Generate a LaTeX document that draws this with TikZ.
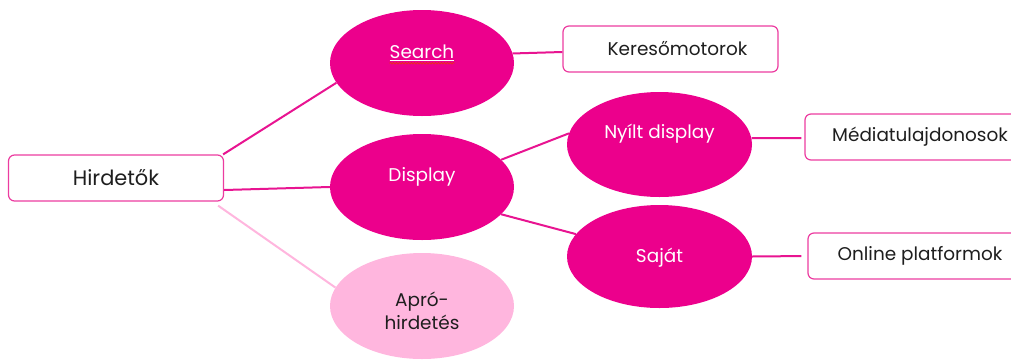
\documentclass[tikz,border=0pt]{standalone}
\usepackage{fontspec}
\setmainfont{Poppins}
\usetikzlibrary{shapes.geometric,decorations.pathmorphing}
\definecolor{magentaA}{RGB}{236,0,140}
\definecolor{boxline}{RGB}{236,60,160}
\definecolor{lightpink}{RGB}{255,182,222}
\definecolor{linkline}{RGB}{232,20,145}
\definecolor{textgray}{RGB}{30,30,30}
\definecolor{spellred}{RGB}{235,40,40}
\tikzset{
  bubble/.style={ellipse, fill=magentaA, draw=none, minimum width=184bp, minimum height=106bp, inner sep=0pt},
  softbubble/.style={bubble, fill=lightpink},
  bubtext/.style={text=white, font=\fontsize{18.5}{22}\selectfont, inner sep=0pt},
  termbox/.style={draw=boxline, line width=1.2bp, rounded corners=6bp, fill=white,
    minimum width=215bp, minimum height=46bp, inner sep=0pt, text=textgray,
    font=\fontsize{18.5}{22}\selectfont},
  link/.style={draw=linkline, line width=2bp},
  softlink/.style={draw=lightpink, line width=2bp}
}
\begin{document}
\begin{tikzpicture}[x=1bp, y=-1bp]
\useasboundingbox (0,0) rectangle (1011,360);

% root box
\node[termbox, font=\fontsize{21}{24}\selectfont] (hird) at (116,178) {Hirdetők};

% first level
\node[bubble] (search) at (422,63) {};
\node[bubtext] (stxt) at ([yshift=10bp]search.center) {\underline{Search}};
\draw[spellred, line width=0.8bp, decorate, decoration={snake, amplitude=0.8bp, segment length=3bp}]
  ([yshift=-4.5bp]stxt.base west) -- ([yshift=-4.5bp]stxt.base east);
\node[bubble] (disp) at (422,187) {};
\node[bubtext] at ([yshift=10bp]disp.center) {Display};
\node[softbubble] (apro) at (422,306) {};
\node[bubtext, text=textgray, align=center, font=\fontsize{18.5}{23}\selectfont] at ([yshift=-5bp]apro.center) {Apró-\\hirdetés};

% second level
\node[bubble, minimum width=185bp, minimum height=105bp] (nyilt) at (659.5,144.5) {};
\node[bubtext] at ([yshift=11bp]nyilt.center) {Nyílt display};
\node[bubble, minimum width=185bp, minimum height=103bp] (sajat) at (659.5,256.5) {};
\node[bubtext] at ([yshift=-1bp]sajat.center) {Saját};

% leaf boxes
\node[termbox] (kereso) at (670.5,49) {\hspace*{14bp}Keresőmotorok};
\node[termbox, minimum width=230bp] (media) at (920,137) {Médiatulajdonosok};
\node[termbox, minimum width=224bp] (online) at (920,256) {Online platformok};

% connectors
\draw[link] ([shift={(-1,0)}]hird.north east) -- (search.193);
\draw[link] ([shift={(0,12)}]hird.east) -- (disp.180);
\draw[softlink] ([shift={(-6,4)}]hird.south east) -- (apro.168);
\draw[link] (search.6) -- ([shift={(0,3)}]kereso.west);
\draw[link] (disp.19) -- (nyilt.173.5);
\draw[link] (disp.341.6) -- (sajat.165.7);
\draw[link] (nyilt.4) -- ([shift={(-3,1)}]media.west);
\draw[link, shorten >=6bp] (sajat.0) -- (online.west);
\end{tikzpicture}
\end{document}
